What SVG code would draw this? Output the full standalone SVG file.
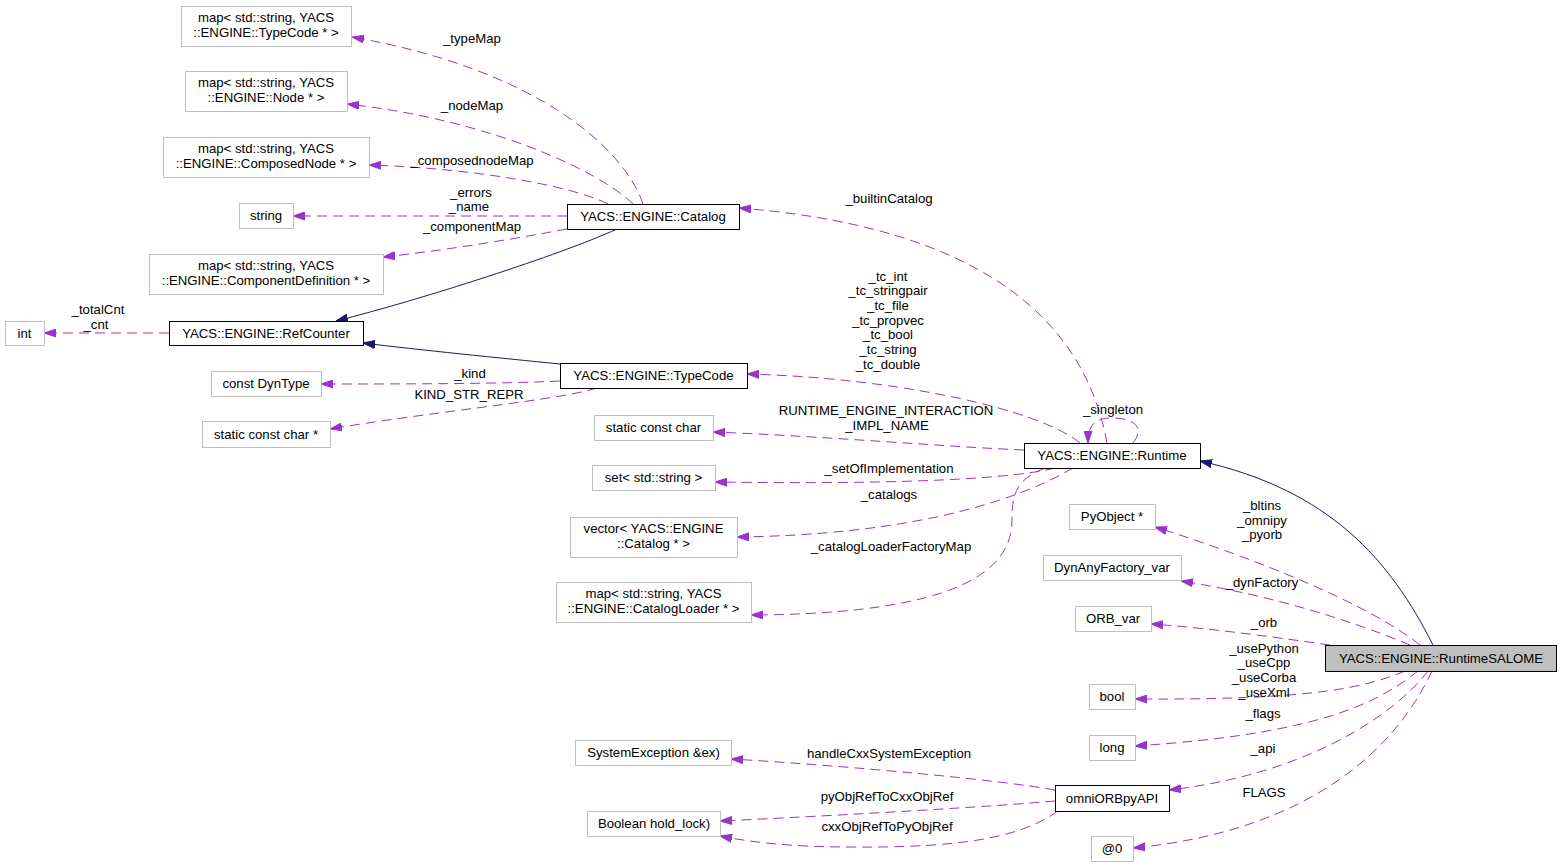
<svg xmlns="http://www.w3.org/2000/svg" width="1561" height="867" viewBox="0 0 1561 867">
<style>
text{font-family:"Liberation Sans",Arial,Helvetica,sans-serif;font-size:13.2px;fill:#000}
.n text,.l text{text-anchor:middle}
.u{fill:#fff;stroke:#bfbfbf;stroke-width:1}
.d{fill:#fff;stroke:#000;stroke-width:1}
.m{fill:#bfbfbf;stroke:#000;stroke-width:1}
.e{fill:none;stroke:#9a32cd;stroke-width:1;stroke-dasharray:10,6;marker-end:url(#ap)}
.i{fill:none;stroke:#191970;stroke-width:1;marker-end:url(#ab)}
</style>
<defs>
<marker id="ap" viewBox="0 0 12 9" markerWidth="12" markerHeight="9" refX="12" refY="4.5" orient="auto" markerUnits="userSpaceOnUse"><path d="M0,0.5 L12,4.5 L0,8.5 z" fill="#9a32cd" stroke="#9a32cd" stroke-width="1"/></marker>
<marker id="ab" viewBox="0 0 12 9" markerWidth="12" markerHeight="9" refX="12" refY="4.5" orient="auto" markerUnits="userSpaceOnUse"><path d="M0,0.5 L12,4.5 L0,8.5 z" fill="#191970" stroke="#191970" stroke-width="1"/></marker>
</defs>
<rect width="1561" height="867" fill="#fff"/>
<g id="edges">
<path class="e" d="M643,204 C625,150 540,70 352,37"/>
<path class="e" d="M633,204 C598,170 490,120 347,104"/>
<path class="e" d="M608,204 C570,185 470,168 369,165"/>
<path class="e" d="M567,216 L293,216"/>
<path class="e" d="M567,229 C530,236 450,250 383,257"/>
<path class="i" d="M617,229 C560,255 420,300 336,321"/>
<path class="i" d="M560,364 C500,358 420,350 363,343"/>
<path class="e" d="M169,333 L44,333"/>
<path class="e" d="M560,381 C500,384 400,384 321,384"/>
<path class="e" d="M597,388 C560,400 430,412 330,429"/>
<path class="e" d="M1107,443 C1090,350 1020,230 739,208"/>
<path class="e" d="M1080,443 C1040,410 900,378 747,374"/>
<path class="e" d="M1024,450 C950,447 820,436 713,432"/>
<path class="e" d="M1055,468 C1000,482 850,484 715,482"/>
<path class="e" d="M1073,468 C1010,505 900,535 737,537"/>
<path class="e" d="M1045,468 C1015,480 1012,495 1012,520 C1012,570 960,614 751,615"/>
<path class="e" d="M1133,443 C1145,428 1135,418 1112,418 C1095,418 1088,425 1088,443"/>
<path class="i" d="M1433,645 C1390,560 1330,490 1200,461"/>
<path class="e" d="M1420,645 C1370,605 1260,560 1155,527"/>
<path class="e" d="M1410,645 C1350,620 1270,595 1181,581"/>
<path class="e" d="M1330,645 C1280,638 1210,628 1151,624"/>
<path class="e" d="M1405,671 C1360,690 1300,700 1135,699"/>
<path class="e" d="M1418,671 C1370,710 1300,735 1135,746"/>
<path class="e" d="M1428,671 C1390,720 1300,775 1169,790"/>
<path class="e" d="M1432,671 C1400,740 1320,830 1133,848"/>
<path class="e" d="M1055,790 C1000,780 850,766 731,759"/>
<path class="e" d="M1055,801 C1000,806 850,815 720,821"/>
<path class="e" d="M1058,811 C1020,838 960,848 850,847 C790,847 750,842 720,836"/>
</g>
<g id="labels" class="l">
<text x="472" y="43">_typeMap</text>
<text x="472" y="110">_nodeMap</text>
<text x="472" y="165">_composednodeMap</text>
<text x="471" y="197">_errors</text>
<text x="469" y="211">_name</text>
<text x="472" y="231">_componentMap</text>
<text x="98" y="314">_totalCnt</text>
<text x="96" y="329">_cnt</text>
<text x="470" y="378">_kind</text>
<text x="469" y="399">KIND_STR_REPR</text>
<text x="889" y="203">_builtinCatalog</text>
<text x="888" y="281">_tc_int</text>
<text x="888" y="295">_tc_stringpair</text>
<text x="888" y="310">_tc_file</text>
<text x="888" y="325">_tc_propvec</text>
<text x="888" y="339">_tc_bool</text>
<text x="888" y="354">_tc_string</text>
<text x="888" y="369">_tc_double</text>
<text x="886" y="415">RUNTIME_ENGINE_INTERACTION</text>
<text x="887" y="430">_IMPL_NAME</text>
<text x="889" y="473">_setOfImplementation</text>
<text x="889" y="499">_catalogs</text>
<text x="891" y="551">_catalogLoaderFactoryMap</text>
<text x="1113" y="414">_singleton</text>
<text x="1262" y="510">_bltins</text>
<text x="1262" y="525">_omnipy</text>
<text x="1262" y="539">_pyorb</text>
<text x="1262" y="587">_dynFactory</text>
<text x="1264" y="627">_orb</text>
<text x="1264" y="653">_usePython</text>
<text x="1264" y="667">_useCpp</text>
<text x="1264" y="682">_useCorba</text>
<text x="1264" y="697">_useXml</text>
<text x="1263" y="718">_flags</text>
<text x="1263" y="753">_api</text>
<text x="1264" y="797">FLAGS</text>
<text x="889" y="758">handleCxxSystemException</text>
<text x="887" y="801">pyObjRefToCxxObjRef</text>
<text x="887" y="831">cxxObjRefToPyObjRef</text>
</g>
<g id="n_typemap" class="n"><rect class="u" x="181.5" y="6.5" width="170" height="40"/><text x="266" y="22">map&lt; std::string, YACS</text><text x="266" y="37">::ENGINE::TypeCode * &gt;</text></g>
<g id="n_nodemap" class="n"><rect class="u" x="185.5" y="71.5" width="162" height="40"/><text x="266" y="87">map&lt; std::string, YACS</text><text x="266" y="102">::ENGINE::Node * &gt;</text></g>
<g id="n_composednodemap" class="n"><rect class="u" x="163.5" y="137.5" width="206" height="40"/><text x="266" y="153">map&lt; std::string, YACS</text><text x="266" y="168">::ENGINE::ComposedNode * &gt;</text></g>
<g id="n_string" class="n"><rect class="u" x="239.5" y="203.5" width="54" height="25"/><text x="266" y="220">string</text></g>
<g id="n_componentmap" class="n"><rect class="u" x="149.5" y="254.5" width="234" height="40"/><text x="266" y="270">map&lt; std::string, YACS</text><text x="266" y="285">::ENGINE::ComponentDefinition * &gt;</text></g>
<g id="n_int" class="n"><rect class="u" x="5.5" y="321.5" width="39" height="24"/><text x="24.5" y="338">int</text></g>
<g id="n_refcounter" class="n"><rect class="d" x="169.5" y="321.5" width="194" height="24"/><text x="266" y="338">YACS::ENGINE::RefCounter</text></g>
<g id="n_dyntype" class="n"><rect class="u" x="211.5" y="371.5" width="110" height="25"/><text x="266" y="388">const DynType</text></g>
<g id="n_scharp" class="n"><rect class="u" x="202.5" y="421.5" width="128" height="26"/><text x="266" y="439">static const char *</text></g>
<g id="n_catalog" class="n"><rect class="d" x="567.5" y="204.5" width="172" height="25"/><text x="653" y="221">YACS::ENGINE::Catalog</text></g>
<g id="n_typecode" class="n"><rect class="d" x="560.5" y="363.5" width="187" height="25"/><text x="653.5" y="380">YACS::ENGINE::TypeCode</text></g>
<g id="n_schar" class="n"><rect class="u" x="594.5" y="415.5" width="119" height="25"/><text x="653.5" y="432">static const char</text></g>
<g id="n_set" class="n"><rect class="u" x="592.5" y="465.5" width="123" height="25"/><text x="653.5" y="482">set&lt; std::string &gt;</text></g>
<g id="n_vector" class="n"><rect class="u" x="570.5" y="517.5" width="167" height="40"/><text x="653.5" y="533">vector&lt; YACS::ENGINE</text><text x="653.5" y="548">::Catalog * &gt;</text></g>
<g id="n_loadermap" class="n"><rect class="u" x="556.5" y="582.5" width="195" height="40"/><text x="653.5" y="598">map&lt; std::string, YACS</text><text x="653.5" y="613">::ENGINE::CatalogLoader * &gt;</text></g>
<g id="n_sysexc" class="n"><rect class="u" x="575.5" y="740.5" width="156" height="25"/><text x="653.5" y="757">SystemException &amp;ex)</text></g>
<g id="n_boolean" class="n"><rect class="u" x="587.5" y="811.5" width="133" height="25"/><text x="654" y="828">Boolean hold_lock)</text></g>
<g id="n_runtime" class="n"><rect class="d" x="1024.5" y="443.5" width="176" height="25"/><text x="1112" y="460">YACS::ENGINE::Runtime</text></g>
<g id="n_pyobject" class="n"><rect class="u" x="1069.5" y="504.5" width="86" height="25"/><text x="1112" y="521">PyObject *</text></g>
<g id="n_dynany" class="n"><rect class="u" x="1043.5" y="555.5" width="138" height="25"/><text x="1112" y="572">DynAnyFactory_var</text></g>
<g id="n_orb" class="n"><rect class="u" x="1075.5" y="606.5" width="76" height="25"/><text x="1113" y="623">ORB_var</text></g>
<g id="n_bool" class="n"><rect class="u" x="1089.5" y="684.5" width="46" height="25"/><text x="1112" y="701">bool</text></g>
<g id="n_long" class="n"><rect class="u" x="1089.5" y="735.5" width="46" height="25"/><text x="1112" y="752">long</text></g>
<g id="n_omniorbpyapi" class="n"><rect class="d" x="1055.5" y="785.5" width="114" height="26"/><text x="1112" y="803">omniORBpyAPI</text></g>
<g id="n_at0" class="n"><rect class="u" x="1091.5" y="836.5" width="42" height="25"/><text x="1112" y="853">@0</text></g>
<g id="n_runtimesalome" class="n"><rect class="m" x="1325.5" y="645.5" width="231" height="26"/><text x="1441" y="663">YACS::ENGINE::RuntimeSALOME</text></g>
</svg>
